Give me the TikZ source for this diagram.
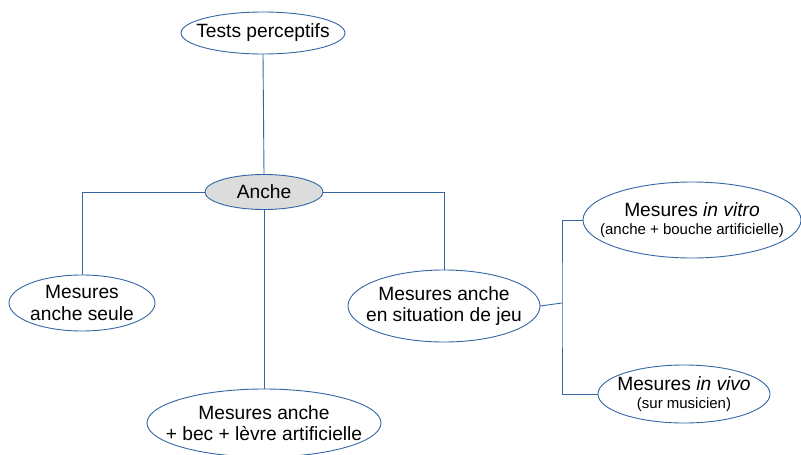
\documentclass[tikz,border=0pt]{standalone}
\usepackage{fontspec}
\setmainfont{Liberation Sans}
\usetikzlibrary{shapes.geometric}
\definecolor{lineblue}{RGB}{52,101,164}
\definecolor{ancheGray}{RGB}{220,220,220}
\begin{document}
\begin{tikzpicture}[x=1pt,y=-1pt,
  bubble/.style={ellipse,draw=lineblue,line width=0.9pt,inner sep=0pt,outer sep=0pt},
  label text/.style={inner sep=0pt,align=center,font=\fontsize{19.2}{21.5}\selectfont},
  conn/.style={draw=lineblue,line width=0.9pt}]
\useasboundingbox (0,0) rectangle (801,455);
\newcommand{\smallfs}{\fontsize{15}{18}\selectfont}
\node[bubble,minimum width=164pt,minimum height=42pt] (tests) at (263,33) {};
\node[bubble,fill=ancheGray,minimum width=118pt,minimum height=35pt] (anche) at (264,192) {};
\node[bubble,minimum width=146pt,minimum height=56pt] (seule) at (82,303) {};
\node[bubble,minimum width=192pt,minimum height=72pt] (jeu) at (444,306) {};
\node[bubble,minimum width=218pt,minimum height=76pt] (vitro) at (692,220) {};
\node[bubble,minimum width=172pt,minimum height=58pt] (vivo) at (684,394) {};
\node[bubble,minimum width=234pt,minimum height=68pt] (bec) at (264,423) {};
\node[label text] (teststxt) at (tests) {Tests perceptifs};
\node[label text] (anchetxt) at (anche) {Anche};
\node[label text] (seuletxt) at (seule) {Mesures\\anche seule};
\node[label text] (jeutxt) at (jeu) {Mesures anche\\en situation de jeu};
\node[label text] (vitrotxt) at (vitro) {Mesures \textit{in vitro}\\[-3.5pt]{\smallfs (anche + bouche artificielle)}};
\node[label text] (vivotxt) at (vivo) {Mesures \textit{in vivo}\\[-3.5pt]{\smallfs (sur musicien)}};
\node[label text] (bectxt) at (bec) {Mesures anche\\+ bec + lèvre artificielle};
\coordinate (split) at (562,303);
\draw[conn] (tests.south) -- (anche.north);
\draw[conn] (anche.west) -| (seule.north);
\draw[conn] (anche.east) -| (jeu.north);
\draw[conn] (anche.south) -- (bec.north);
\draw[conn] (jeu.east) -- (split);
\draw[conn] (vitro.west) -| (split) |- (vivo.west);
\end{tikzpicture}
\end{document}
